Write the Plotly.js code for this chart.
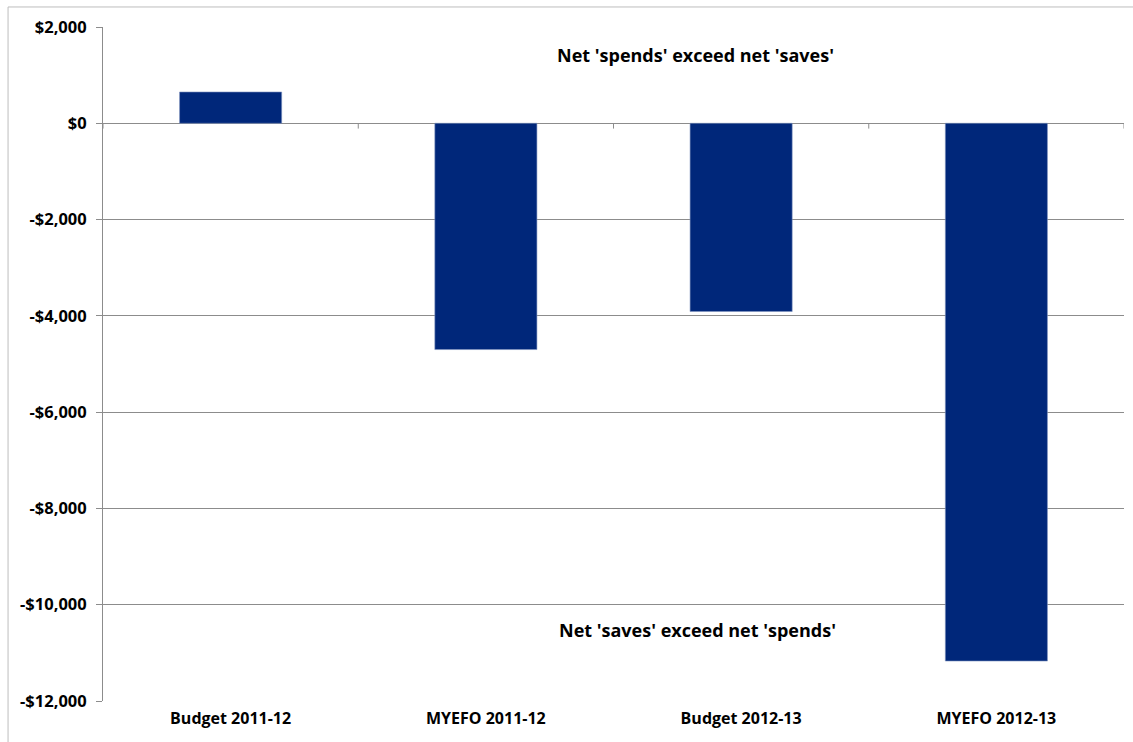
<!DOCTYPE html>
<html>
<head>
<meta charset="utf-8">
<script src="https://cdn.plot.ly/plotly-3.0.1.min.js"></script>
<style>html,body{margin:0;padding:0;background:#fff;}#chart{width:1133px;height:742px;}</style>
</head>
<body>
<div id="chart"></div>
<script>
const categories = ["Budget 2011-12", "MYEFO 2011-12", "Budget 2012-13", "MYEFO 2012-13"];
const netValues = [650, -4700, -3910, -11170];
const yTickVals = [2000, 0, -2000, -4000, -6000, -8000, -10000, -12000];
const yTickText = ["$2,000", "$0", "-$2,000", "-$4,000", "-$6,000", "-$8,000", "-$10,000", "-$12,000"];
const noteTop = "Net 'spends' exceed net 'saves'";
const noteBottom = "Net 'saves' exceed net 'spends'";

const FONT = "'Open Sans', sans-serif";
const GRID = "#8c8c8c";

const trace = {
  type: "bar",
  x: categories,
  y: netValues,
  marker: {color: "#00277A", line: {color: "#7f93c0", width: 0.6}},
  width: 0.4,
  hoverinfo: "x+y"
};

// category boundary tick marks on the zero line
const shapes = [];
for (let i = 0; i <= categories.length; i++) {
  shapes.push({type: "line", xref: "x", yref: "y", x0: i - 0.5, x1: i - 0.5, y0: 0, y1: -110,
               line: {color: GRID, width: 1}});
}
// outer chart frame
shapes.push({type: "rect", xref: "paper", yref: "paper", x0: -0.093, x1: 1.2, y0: -0.2, y1: 1.0297,
             line: {color: "#bdbdbd", width: 1}, layer: "below"});

const layout = {
  width: 1133, height: 742,
  margin: {l: 103, r: 9, t: 27, b: 41},
  paper_bgcolor: "#fff", plot_bgcolor: "#fff",
  showlegend: false,
  font: {family: FONT, size: 15, color: "#000"},
  xaxis: {
    type: "category",
    range: [-0.5, categories.length - 0.5],
    showgrid: false, showline: false, zeroline: false,
    ticks: "", ticklen: 0, ticklabelstandoff: 6,
    tickfont: {family: FONT, size: 16, color: "#000", weight: "bold"},
    fixedrange: true
  },
  yaxis: {
    range: [-12000, 2000],
    tickvals: yTickVals, ticktext: yTickText,
    showgrid: true, gridcolor: GRID, gridwidth: 1,
    zeroline: true, zerolinecolor: GRID, zerolinewidth: 1,
    showline: true, linecolor: GRID, linewidth: 1,
    ticks: "outside", ticklen: 6, tickcolor: GRID, ticklabelstandoff: 6,
    tickfont: {family: FONT, size: 16.5, color: "#000", weight: "bold"},
    fixedrange: true
  },
  shapes: shapes,
  annotations: [
    {text: noteTop, xref: "paper", yref: "paper", x: 0.58, y: 0.958, showarrow: false,
     xanchor: "center", yanchor: "middle", font: {family: FONT, size: 18, color: "#000", weight: "bold"}},
    {text: noteBottom, xref: "paper", yref: "paper", x: 0.582, y: 0.105, showarrow: false,
     xanchor: "center", yanchor: "middle", font: {family: FONT, size: 18, color: "#000", weight: "bold"}}
  ]
};

Plotly.newPlot("chart", [trace], layout, {displayModeBar: false, responsive: false});
</script>
</body>
</html>
